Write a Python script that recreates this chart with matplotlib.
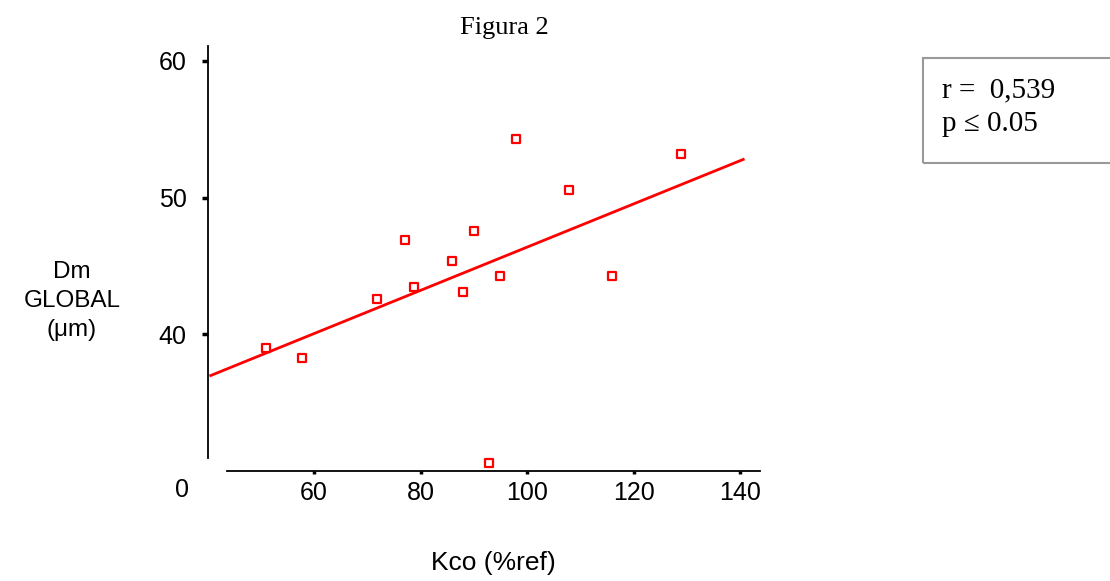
import numpy as np
import matplotlib
matplotlib.use("Agg")
import matplotlib.pyplot as plt
from matplotlib.patches import Rectangle

# ----------------------
# Data
# ----------------------
kco = [51.0, 57.8, 71.8, 77.0, 78.8, 85.9, 88.0, 90.0, 94.9, 97.9, 92.9, 107.9, 115.9, 128.9]
dm_global = [39.0, 38.3, 42.6, 46.9, 43.5, 45.4, 43.1, 47.6, 44.3, 54.3, 30.6, 50.6, 44.3, 53.2]

# regression line end points (as drawn in the original)
fit_x = [40.6, 140.6]
fit_y = [37.0, 52.8]

x_ticks = [60, 80, 100, 120, 140]
y_ticks = [40, 50, 60]

r_text = "r =  0,539"
p_text = "p \u2264 0.05"

sans = ["Liberation Sans", "DejaVu Sans"]
serif = ["Liberation Serif", "DejaVu Serif"]

# ----------------------
# Plot
# ----------------------
W, H = 1110, 581
fig = plt.figure(figsize=(W / 100, H / 100), dpi=100)
ax = fig.add_axes([196.9 / W, (H - 484.9) / H, 575.05 / W, 458.1 / H])
ax.set_xlim(38, 146)
ax.set_ylim(29, 62.5)

ax.plot(fit_x, fit_y, color="#ff0000", lw=2)
ax.scatter(kco, dm_global, marker="s", s=34, facecolors="white",
           edgecolors="#ff0000", linewidths=1.6, zorder=3)

for side in ["top", "right"]:
    ax.spines[side].set_visible(False)
ax.spines["left"].set_position(("data", 40))
ax.spines["left"].set_bounds(31, 61.1)
ax.spines["bottom"].set_position(("data", 30))
ax.spines["bottom"].set_bounds(43.7, 143.8)
for side in ["left", "bottom"]:
    ax.spines[side].set_linewidth(1.3)

ax.set_xticks(x_ticks)
ax.set_yticks(y_ticks)
ax.tick_params(axis="y", length=4, width=2.5, pad=11, labelsize=18)
ax.tick_params(axis="x", length=2, width=2.5, pad=5, labelsize=18)
for lab in ax.get_xticklabels() + ax.get_yticklabels():
    lab.set_family(sans)

fig.text(182 / W, 1 - 490 / H, "0", ha="center", va="center", fontsize=18, family=sans)

fig.text(504 / W, 1 - 28 / H, "Figura 2", ha="center", va="center", fontsize=19, family=serif)
fig.text(72 / W, 1 - 301 / H, "Dm\nGLOBAL\n(\u03bcm)", ha="center", va="center",
         multialignment="center", fontsize=17.5, family=sans, linespacing=1.4)
fig.text(493 / W, 1 - 563 / H, "Kco (%ref)", ha="center", va="center", fontsize=19, family=sans)

box = Rectangle((923 / W, 1 - 163 / H), 250 / W, 105 / H, transform=fig.transFigure,
                facecolor="none", edgecolor="#999999", lw=1.5)
fig.patches.append(box)
fig.text(942 / W, 1 - 97 / H, r_text, ha="left", va="baseline", fontsize=21, family=serif)
fig.text(942 / W, 1 - 131 / H, p_text, ha="left", va="baseline", fontsize=21, family=serif)

fig.savefig("out.png", dpi=100)
